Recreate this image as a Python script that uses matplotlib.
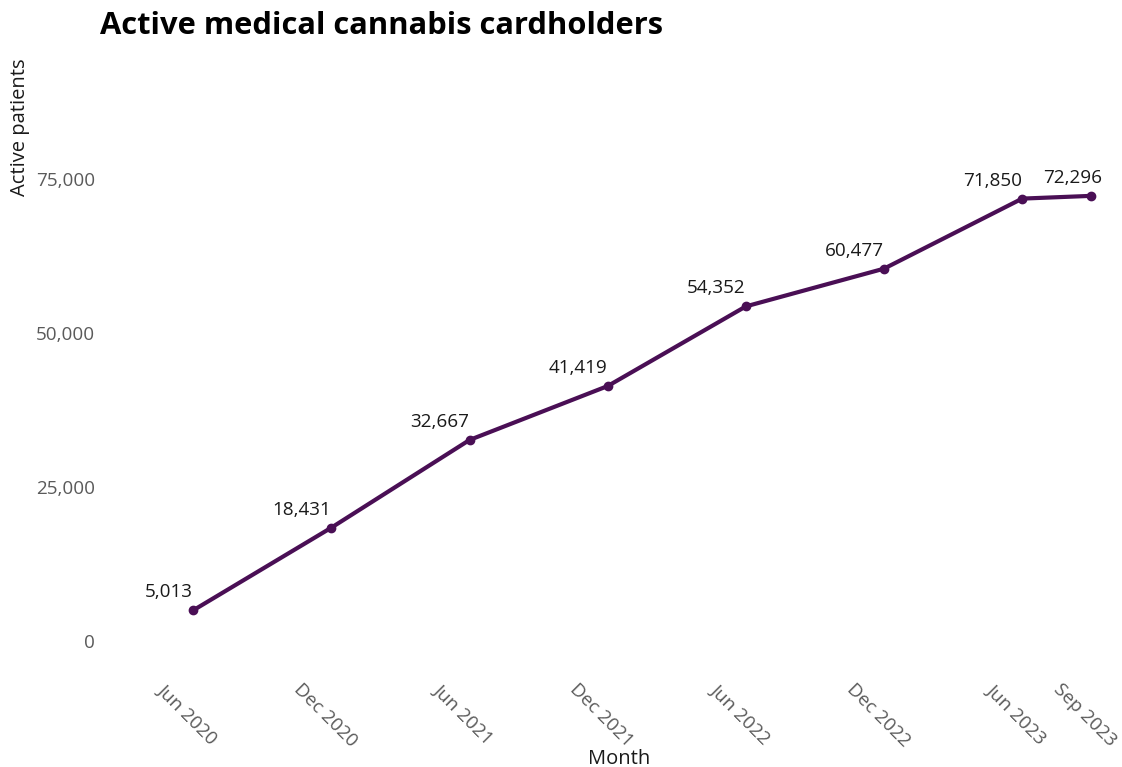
import matplotlib
matplotlib.use("Agg")
import matplotlib.pyplot as plt
import matplotlib.transforms as mtransforms
from matplotlib.ticker import FuncFormatter, FixedLocator

plt.rcParams['font.family'] = ['Open Sans', 'DejaVu Sans']

# months since Jun 2020
months = [0, 6, 12, 18, 24, 30, 36, 39]
month_labels = ['Jun 2020', 'Dec 2020', 'Jun 2021', 'Dec 2021',
                'Jun 2022', 'Dec 2022', 'Jun 2023', 'Sep 2023']
patients = [5013, 18431, 32667, 41419, 54352, 60477, 71850, 72296]
yticks = [0, 25000, 50000, 75000]

line_color = '#4a0f55'
tick_color = '#5a5a5a'

fig = plt.figure(figsize=(11.22, 7.67), dpi=100)
W, H = 1122, 767
left, right, top, bottom = 105, 1112, 56, 672
ax = fig.add_axes([left / W, 1 - bottom / H, (right - left) / W, (bottom - top) / H])

ax.plot(months, patients, color=line_color, lw=3, marker='o', ms=6,
        solid_capstyle='round', zorder=3)

# label offsets in points (dx, dy), text right-aligned by default
offsets = {7: (7.5, 13)}
for i, (m, v) in enumerate(zip(months, patients)):
    dx, dy = offsets.get(i, (0, 13))
    ax.annotate(f'{v:,}', (m, v), xytext=(dx, dy), textcoords='offset points',
                ha='right', va='center', fontsize=13.6, color='#1a1a1a')

ax.set_xlim(-3.83, 39.9)
ax.set_ylim(-5000, 95000)

ax.xaxis.set_major_locator(FixedLocator(months))
ax.set_xticklabels(month_labels)
ax.yaxis.set_major_locator(FixedLocator(yticks))
ax.yaxis.set_major_formatter(FuncFormatter(lambda v, p: f'{int(v):,}'))

ax.tick_params(axis='both', length=0, labelsize=13.6, labelcolor=tick_color)
ax.tick_params(axis='x', pad=6)
ax.tick_params(axis='y', pad=7)

# rotated month labels, nudged a little left
shift = mtransforms.ScaledTranslation(-6 / 100, 0, fig.dpi_scale_trans)
for lab in ax.get_xticklabels():
    lab.set_rotation(-45)
    lab.set_ha('center')
    lab.set_va('top')
    lab.set_transform(lab.get_transform() + shift)

for s in ax.spines.values():
    s.set_visible(False)

ax.set_xlabel('Month', fontsize=14.5, color='#1a1a1a', va='center')
ax.xaxis.set_label_coords((619 - left) / (right - left), (bottom - 759) / (bottom - top))
ax.set_ylabel('Active patients', fontsize=14.5, color='#1a1a1a', ha='right')
ax.yaxis.set_label_coords((30 - left) / (right - left), (bottom - 58) / (bottom - top))

fig.text(100 / W, 1 - 26 / H, 'Active medical cannabis cardholders', fontsize=22.2,
         fontweight='bold', ha='left', va='center', color='black')

fig.savefig('out.png', dpi=100)
